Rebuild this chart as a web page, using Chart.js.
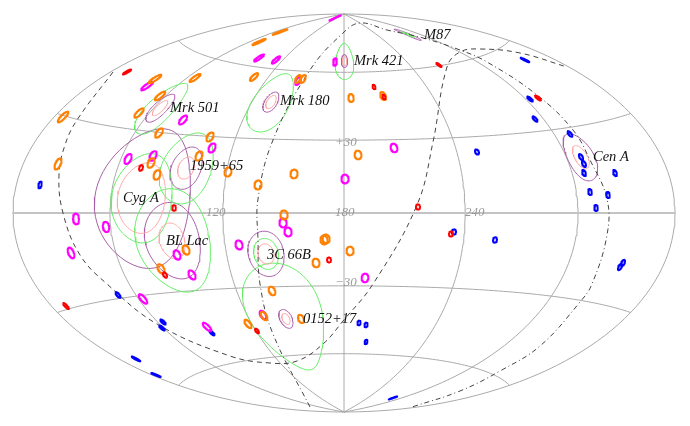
<!DOCTYPE html>
<html>
<head>
<meta charset="utf-8">
<style>html,body{margin:0;padding:0;background:#fff}canvas{display:block}</style>
<script src="https://cdn.jsdelivr.net/npm/chart.js@4"></script>
</head>
<body>
<canvas id="c" width="690" height="426"></canvas>
<script>
// Marker centres in map-plane units [x, y]
const orangeMarks = [[-281,96],[-189,134],[-149,135],[-184,117],[-205,100],[-185,80],[-134,76],[-85,171],[-64,181],[-90,136],[-46,134],[-41,134],[7,115],[39,117],[-286,49],[-145,57],[-193,50],[-187,38],[-158,-37],[-183,-56],[-116,41],[-50,39],[-86,28],[14,58],[-60,-2],[-20,-27],[-18,-26],[-28,-50],[6,-38],[-72,-78],[-80,-103],[-43,-106],[-96,-111]];
const magentaMarks = [[-197,127],[-161,93],[-9,195],[-85,155],[-68,153],[-46,132],[-9,151],[-216,54],[-191,57],[-132,65],[-268,-6],[-238,-14],[-273,-40],[-167,-42],[-152,-62],[1,34],[50,65],[-61,-10],[-56,-19],[-105,-32],[21,-65],[-201,-86],[-137,-114],[-81,-102]];
const redMarks = [[-217,141],[95,148],[30,126],[40,116],[194,115],[-203,45],[-170,5],[-179,-62],[74,6],[107,-21],[-15,-47],[-278,-93],[-87,-118]];
const blueMarks = [[181,153],[186,114],[191,94],[226,79],[-304,28],[110,-19],[133,61],[237,56],[240,49],[240,40],[271,40],[246,21],[264,18],[252,5],[151,-27],[276,-54],[279,-50],[-226,-82],[-181,-109],[-182,-115],[-132,-120],[-208,-146],[-188,-162],[15,-110],[22,-112],[22,-129],[49,-185]];
// Radius of each marker class, degrees of longitude and latitude
const markRadius = {orange:1.8, magenta:1.8, red:1.05, blue:1.05};

// Named sources: centre and the three contour radii in degrees
const sourceNames  = ['Mrk 501','Mrk 421','Mrk 180','Cyg A','1959+65','BL Lac','3C 66B','0152+17','Cen A','M87'];
const sourceCentre = [[-184,105],[0.5,152],[-73,111],[-203,15],[-158,45],[-172,-28],[-78,-41],[-58,-106],[237,56],[64,178.5]];
const purpleRadius = [5.6,3.1,4.4,26,8.2,14.6,9.2,4.1,8.4,3.5];
const greenRadius  = [10.2,8.8,12.8,16.5,13.8,19.8,6.3,23.5,0,1.8];
const pinkRadius   = [3,2.2,2.9,13,4.3,6.8,4.1,2.4,4.1,0];
const sourceLabelAt = [[-174,101],[10,148],[-64,108],[-221,11],[-154,43],[-178,-32],[-77,-46],[-41,-110],[249,52],[80,174]];

// The two plane curves
const dashedCurve = [[-231,141],[-267,93],[-279,68],[-285,38],[-281,0],[-264,-42],[-237,-71],[-187,-111],[-114,-143],[-74,-150],[-47,-148],[-21,-131],[-1,-108],[29,-71],[73,8],[89,71],[103,146],[116,161],[136,164],[176,160],[223,146]];
const dashDotCurve = [[-34,-194],[-71,-121],[-84,-71],[-86,-27],[-86,14],[-71,73],[-34,143],[-1,180],[16,190],[43,183],[79,175],[116,163],[143,151],[193,118],[229,83],[246,53],[263,14],[263,-22],[248,-71],[236,-89],[196,-133],[156,-158],[116,-178],[68,-194]];

// Graticule
const meridians = [-180,-120,-60,0,60,120,180];
const parallels = [-60,-30,30,60];
const axisLabels = ['120','180','240','+30','\u221230'];
const axisLabelAt = [[-138,-3],[-9,-3],[121,-3],[-9,67],[-9,-73]];

const RX = 331, RY = 199, D = Math.PI/180;
function project(lon, lat){
  const w = Math.sqrt(1 + Math.cos(lat)*Math.cos(lon/2));
  return {x: RX*Math.cos(lat)*Math.sin(lon/2)/w, y: RY*Math.sin(lat)/w};
}
function unproject(X, Y){
  const x = X/RX*2*Math.SQRT2, y = Y/RY*Math.SQRT2;
  const z = Math.sqrt(1 - x*x/16 - y*y/4);
  return {lon: 2*Math.atan2(z*x, 2*(2*z*z-1)), lat: Math.asin(z*y)};
}
// A contour of fixed size in longitude and latitude, as seen on the map
function skyCircle(X, Y, rDeg){
  const s = unproject(X, Y), r = rDeg*D, pts = [];
  for(let i=0;i<=73;i++){
    const t = i/72*2*Math.PI;
    const lat = Math.max(-Math.PI/2, Math.min(Math.PI/2, s.lat + r*Math.sin(t)));
    const lon = Math.max(-Math.PI, Math.min(Math.PI, s.lon + r*Math.cos(t)));
    pts.push(project(lon, lat));
  }
  return pts;
}
function outline(data, color, width, order){
  return {data, showLine:true, borderColor:color, borderWidth:width, pointRadius:0, tension:0, fill:false, order, borderJoinStyle:'round', borderCapStyle:'round'};
}

const datasets = [];
const GRID = '#aaaaaa';
meridians.forEach(m => {
  const d = [];
  for(let a=-90;a<=90;a+=2) d.push(project(m*D, a*D));
  datasets.push(outline(d, GRID, 1, 100));
});
parallels.forEach(p => {
  const d = [];
  for(let l=-180;l<=180;l+=3) d.push(project(l*D, p*D));
  datasets.push(outline(d, GRID, 1, 100));
});
{
  const d = [];
  for(let l=-180;l<=180;l+=10) d.push(project(l*D, 0));
  datasets.push(outline(d, '#c4c4c4', 2, 99));
}
sourceCentre.forEach((c,i) => {
  if(purpleRadius[i]) datasets.push(outline(skyCircle(c[0],c[1],purpleRadius[i]), '#a860a8', 1, 60));
  if(greenRadius[i])  datasets.push(outline(skyCircle(c[0],c[1],greenRadius[i]),  '#66ee66', 1, 59));
  if(pinkRadius[i])   datasets.push(outline(skyCircle(c[0],c[1],pinkRadius[i]),   '#ffaaaa', 1, 58));
});
const toXY = a => a.map(p => ({x:p[0], y:p[1]}));
datasets.push(Object.assign(outline(toXY(dashedCurve), '#444444', 1, 50), {tension:0.4, borderDash:[5,4], borderCapStyle:'butt'}));
datasets.push(Object.assign(outline(toXY(dashDotCurve), '#444444', 1, 50), {tension:0.4, borderDash:[5,3,1,3], borderCapStyle:'butt'}));
[[blueMarks,'#0000ff',markRadius.blue,1.9,40],[magentaMarks,'#ff00ff',markRadius.magenta,2,30],[orangeMarks,'#ff8000',markRadius.orange,2,20],[redMarks,'#ff0000',markRadius.red,1.8,10]].forEach(g => {
  g[0].forEach(p => datasets.push(outline(skyCircle(p[0],p[1],g[2]), g[1], g[3], g[4])));
});

const labelsPlugin = {
  id:'mapLabels',
  afterDatasetsDraw(chart){
    const {ctx, scales:{x,y}} = chart;
    ctx.save();
    ctx.textAlign='left'; ctx.textBaseline='alphabetic';
    ctx.fillStyle='#999999'; ctx.font='italic 13px "Liberation Serif"';
    axisLabels.forEach((t,i)=>ctx.fillText(t, x.getPixelForValue(axisLabelAt[i][0]), y.getPixelForValue(axisLabelAt[i][1])));
    ctx.fillStyle='#111111'; ctx.font='italic 14.5px "Liberation Serif"';
    sourceNames.forEach((t,i)=>ctx.fillText(t, x.getPixelForValue(sourceLabelAt[i][0]), y.getPixelForValue(sourceLabelAt[i][1])));
    ctx.restore();
  }
};

new Chart(document.getElementById('c'), {
  type:'scatter',
  data:{datasets},
  options:{
    responsive:false, animation:false, devicePixelRatio:1,
    layout:{padding:0},
    plugins:{legend:{display:false}, tooltip:{enabled:false}},
    events:[],
    scales:{
      x:{type:'linear', min:-344, max:346, display:false},
      y:{type:'linear', min:-213, max:213, display:false}
    }
  },
  plugins:[labelsPlugin]
});
</script>
</body>
</html>
